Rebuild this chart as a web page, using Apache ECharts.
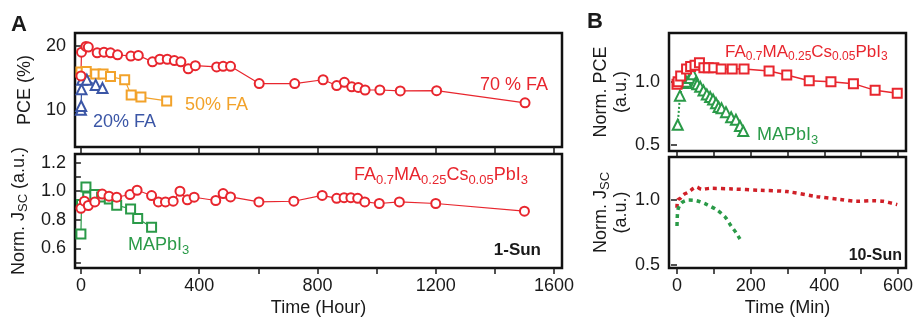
<!DOCTYPE html>
<html><head><meta charset="utf-8">
<script src="https://cdn.jsdelivr.net/npm/echarts@6/dist/echarts.min.js"></script>
<style>html,body{margin:0;padding:0;background:#fff}#c{width:916px;height:320px}</style>
</head><body><div id="c"></div>
<script>
// ---- data ----
const pce70 = [[0,15.3],[2,19.0],[17,19.9],[25,19.8],[55,18.9],[78,19.0],[100,18.9],[124,18.6],[169,18.4],[194,18.5],[242,17.5],[267,17.9],[292,17.9],[316,17.7],[338,17.5],[363,16.4],[387,16.9],[459,16.7],[481,16.8],[506,16.8],[603,14.1],[723,14.1],[819,14.7],[865,13.8],[891,14.3],[916,13.6],[938,13.5],[961,13.1],[1011,13.1],[1080,12.95],[1203,13.0],[1502,11.1]];
const pce50 = [[0,15.9],[18,16.0],[50,15.6],[75,15.6],[100,15.2],[148,14.7],[170,12.3],[203,12.0],[290,11.4]];
const pce20 = [[0,10.0],[1,10.6],[2,13.2],[4,14.7],[20,14.7],[50,13.9],[73,13.4]];
const jscFA1 = [[0,0.88],[12,0.93],[25,0.90],[47,0.925],[72,0.98],[95,0.965],[121,0.958],[166,0.977],[190,1.007],[239,0.97],[262,0.925],[286,0.925],[312,0.93],[335,1.0],[360,0.94],[383,0.958],[456,0.935],[481,0.984],[506,0.96],[602,0.925],[720,0.93],[816,0.971],[865,0.95],[890,0.955],[913,0.955],[936,0.95],[960,0.925],[1009,0.914],[1077,0.925],[1200,0.914],[1500,0.86]];
const jscMA1 = [[0,0.70],[2,0.907],[17,1.03],[23,0.96],[47,0.977],[70,0.96],[96,0.946],[121,0.902],[168,0.876],[192,0.809],[239,0.748]];
const pceFA10 = [[0,0.98],[3,1.0],[10,1.045],[26,1.10],[37,1.12],[49,1.13],[61,1.15],[73,1.11],[85,1.11],[100,1.11],[120,1.10],[150,1.10],[182,1.10],[250,1.085],[298,1.053],[359,1.008],[418,1.0],[479,0.985],[538,0.932],[598,0.91]];
const pceMA10 = [[2,0.66],[8,0.89],[17,0.99],[25,1.0],[35,1.03],[43,1.06],[50,0.99],[55,0.98],[63,0.96],[72,0.93],[81,0.90],[90,0.88],[98,0.86],[106,0.83],[113,0.80],[121,0.79],[133,0.76],[147,0.72],[160,0.70],[171,0.65],[180,0.61]];
const jscFA10 = [[0,0.94],[2,1.0],[10,1.015],[17,1.04],[30,1.06],[45,1.09],[53,1.10],[67,1.082],[90,1.09],[150,1.085],[225,1.075],[298,1.065],[380,1.026],[443,1.005],[488,0.99],[533,0.995],[560,0.99],[598,0.965]];
const jscMA10 = [[0,0.80],[1,0.88],[3,0.93],[13,0.98],[31,1.0],[53,0.995],[81,0.965],[110,0.92],[132,0.865],[147,0.80],[160,0.75],[171,0.70]];
// ticks
const hourTicks = [0,200,400,600,800,1000,1200,1400,1600];
const hourLabels = [0,400,800,1200,1600];
const minTicks = [0,100,200,300,400,500,600];
const minLabels = [0,200,400,600];
const pceTicks = [10,20];
const jscTicks = [0.5,0.6,0.7,0.8,0.9,1.0,1.1,1.2];
const jscLabels = [0.6,0.8,1.0,1.2];
const normTicks = [0.5,1.0];

const RED='#e8262e', ORANGE='#f2a22a', BLUE='#3b56a6', GREEN='#2a9a48', DRED='#d02028', INK='#1a1a1a';
const FF='"Liberation Sans", Arial, sans-serif';

function xAx(idx, min, max, ticks, labels, showLabels, name){
  return {type:'value', gridIndex:idx, min, max, axisLine:{show:false},
    splitLine:{show:false},
    axisTick:{show:true, length:6, lineStyle:{color:INK,width:1.5}, customValues:ticks},
    axisLabel:{show:showLabels, customValues:labels, color:INK, fontSize:18, fontFamily:FF, margin:9, formatter:v=>String(v)},
    name: name||'', nameLocation:'middle', nameGap:31, nameTextStyle:{color:INK,fontSize:18,fontFamily:FF}};
}
function yAx(idx, min, max, ticks, labels, name, gap, rich, fmt){
  return {type:'value', gridIndex:idx, min, max, axisLine:{show:false}, splitLine:{show:false},
    axisTick:{show:true, length:6, lineStyle:{color:INK,width:1.5}, customValues:ticks},
    axisLabel:{customValues:labels, color:INK, fontSize:18, fontFamily:FF, margin:9, formatter:fmt||(v=>String(v))},
    name, nameLocation:'middle', nameGap:gap,
    nameTextStyle:{color:INK,fontSize:18,fontFamily:FF,lineHeight:20,rich:rich||{}}};
}
const subRich = {m:{fontSize:18,fontFamily:FF,color:INK,lineHeight:20}, s:{fontSize:13,fontFamily:FF,color:INK,padding:[9,0,0,0],lineHeight:12}};
const one = v => v.toFixed(1);
const grid = (l,t,w,h)=>({left:l,top:t,width:w,height:h,show:true,borderColor:'#111',borderWidth:2.5,backgroundColor:'transparent'});

function ln(name, data, xi, color, sym, size, lw, type, extra){
  return Object.assign({type:'line', name, data, xAxisIndex:xi, yAxisIndex:xi, symbol:sym, symbolSize:size,
    showSymbol: sym!=='none', itemStyle:{color, borderWidth:2}, lineStyle:{color,width:lw,type:type||'solid'}, animation:false, clip:true}, extra||{});
}

const formula = (x,y,size,sub)=>({type:'text', x, y, style:{
  text:'{m|FA}{s|0.7}{m|MA}{s|0.25}{m|Cs}{s|0.05}{m|PbI}{s|3}',
  rich:{m:{fontSize:size,fontFamily:FF,fill:RED,lineHeight:22}, s:{fontSize:sub,fontFamily:FF,fill:RED,padding:[10,0,0,0],lineHeight:12}},
  textVerticalAlign:'middle'}});
const mapbi = (x,y)=>({type:'text', x, y, style:{
  text:'{m|MAPbI}{s|3}',
  rich:{m:{fontSize:18,fontFamily:FF,fill:GREEN,lineHeight:22}, s:{fontSize:13,fontFamily:FF,fill:GREEN,padding:[10,0,0,0],lineHeight:12}},
  textVerticalAlign:'middle'}});
const txt = (x,y,t,color,font,align)=>({type:'text', x, y, style:{text:t, fill:color, font, textAlign:align||'left', textVerticalAlign:'middle'}});

const option = {
  backgroundColor:'#fff',
  animation:false,
  grid:[grid(75,33,487,114), grid(75,154,487,114), grid(669,33,237,118), grid(669,157,237,111)],
  xAxis:[
    xAx(0,-20,1627,hourTicks,hourLabels,false),
    xAx(1,-20,1627,hourTicks,hourLabels,true,'Time (Hour)'),
    xAx(2,-21.7,621.8,minTicks,minLabels,false),
    xAx(3,-21.7,621.8,minTicks,minLabels,true,'Time (Min)')
  ],
  yAxis:[
    yAx(0,4.2,22.0,pceTicks,pceTicks,'PCE (%)',38),
    yAx(1,0.462,1.261,jscTicks,jscLabels,'{m|Norm. J}{s|SC}{m| (a.u.)}',40,subRich,one),
    yAx(2,0.453,1.385,normTicks,normTicks,'Norm. PCE\n(a.u.)',37,null,one),
    yAx(3,0.477,1.331,normTicks,normTicks,'{m|Norm. J}{s|SC}\n{m|(a.u.)}',37,subRich,one)
  ],
  series:[
    ln('50% FA',pce50,0,ORANGE,'emptyRect',9,1.2),
    ln('20% FA',pce20,0,BLUE,'emptyTriangle',10,1.2),
    ln('70% FA',pce70,0,RED,'emptyCircle',9,1.2),
    ln('MAPbI3 1sun',jscMA1,1,GREEN,'emptyRect',9,1.2),
    ln('FA 1sun',jscFA1,1,RED,'emptyCircle',9,1.2),
    ln('MAPbI3 PCE 10sun',pceMA10,2,GREEN,'emptyTriangle',10,2,'dotted'),
    ln('FA PCE 10sun',pceFA10,2,RED,'emptyRect',9,1.5),
    ln('FA Jsc 10sun',jscFA10,3,DRED,'none',0,3.5,[4,4],{smooth:0.3}),
    ln('MA Jsc 10sun',jscMA10,3,GREEN,'none',0,3.5,[4,4],{smooth:0.3})
  ],
  graphic:[
    txt(11,25,'A',INK,'bold 22px '+FF),
    txt(587,22,'B',INK,'bold 22px '+FF),
    txt(480,85,'70 % FA',RED,'18px '+FF),
    txt(185,105,'50% FA',ORANGE,'18px '+FF),
    txt(93,122,'20% FA',BLUE,'18px '+FF),
    mapbi(128,245),
    formula(354,175,18,13),
    txt(541,250,'1-Sun',INK,'bold 17px '+FF,'right'),
    formula(725,52,17,12),
    mapbi(757,135),
    txt(902,256,'10-Sun',INK,'bold 16px '+FF,'right')
  ]
};
const chart = echarts.init(document.getElementById('c'), null, {renderer:'canvas'});
chart.setOption(option);
</script></body></html>
